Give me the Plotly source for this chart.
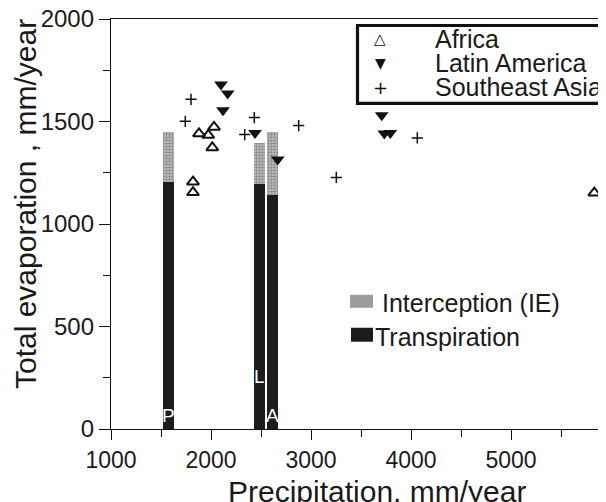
import plotly.graph_objects as go

# ---------------- data ----------------
africa_precip = [1880, 1973, 2030, 2013, 1820, 1820, 5833]
africa_evap = [1441, 1433, 1473, 1373, 1206, 1154, 1152]

latam_precip = [2100, 2167, 2120, 2440, 2667, 3707, 3733, 3793]
latam_evap = [1681, 1636, 1555, 1444, 1315, 1530, 1441, 1444]

seasia_precip = [1800, 1743, 2433, 2337, 2877, 3253, 4063]
seasia_evap = [1608, 1501, 1519, 1436, 1480, 1227, 1420]

site_labels = ["P", "L", "A"]
site_precip = [1577, 2487, 2618]
site_transpiration = [1206, 1195, 1140]
site_interception = [243, 201, 308]

x_ticks = [1000, 2000, 3000, 4000, 5000]
y_ticks = [0, 500, 1000, 1500, 2000]

# ---------------- layout helpers ----------------
# The page body has an 8px default margin, so the figure is drawn 8px
# smaller and positions below are given in browser-window pixels.
OFF = 8
WIN_W, WIN_H = 606, 502
W, H = WIN_W - OFF, WIN_H - OFF
L_PX, R_PX, T_PX, B_PX = 111, 606, 18.5, 429.5   # plot area in window px


def px_x(px):
    return (px - L_PX) / (R_PX - L_PX)


def px_y(py):
    return (B_PX - py) / (B_PX - T_PX)


FONT = "Liberation Sans, Arial, sans-serif"
TXT = "#1a1a1a"

fig = go.Figure()

# stacked bars
fig.add_trace(go.Bar(
    x=site_precip, y=site_transpiration, name="Transpiration",
    width=112, marker=dict(color="#1c1c1c", line=dict(width=0)),
    showlegend=False, hoverinfo="x+y+name",
))
fig.add_trace(go.Bar(
    x=site_precip, y=site_interception, name="Interception (IE)",
    width=112,
    marker=dict(color="#a0a0a0", line=dict(width=0),
                pattern=dict(shape=".", fgcolor="#505050", bgcolor="#c4c4c4",
                             size=3, solidity=0.5)),
    showlegend=False, hoverinfo="x+y+name",
))

# scatter series
fig.add_trace(go.Scatter(
    x=africa_precip, y=africa_evap, mode="markers", name="Africa",
    marker=dict(symbol="triangle-up-open", size=10.5, color="#111",
                line=dict(width=2, color="#111")),
    showlegend=False,
))
fig.add_trace(go.Scatter(
    x=latam_precip, y=latam_evap, mode="markers", name="Latin America",
    marker=dict(symbol="triangle-down", size=12, color="#111",
                line=dict(width=0)),
    showlegend=False,
))
fig.add_trace(go.Scatter(
    x=seasia_precip, y=seasia_evap, mode="markers", name="Southeast Asia",
    marker=dict(symbol="cross-thin", size=8, color="#111",
                line=dict(width=1.5, color="#111")),
    showlegend=False,
))

annotations = []
shapes = []

# bar site labels (white letters at bar bottoms)
label_y = {"P": 67, "L": 257, "A": 67}
for lab, xp in zip(site_labels, site_precip):
    annotations.append(dict(
        x=xp, y=label_y[lab], xref="x", yref="y", text=lab, showarrow=False,
        font=dict(family=FONT, size=19, color="white"),
        xanchor="center", yanchor="middle",
    ))

# legend 1 (regions) box
shapes.append(dict(
    type="rect", xref="paper", yref="paper",
    x0=px_x(357.5), x1=px_x(640), y0=px_y(103), y1=px_y(25),
    line=dict(color="#111", width=3.2), fillcolor="white", layer="above",
))
legend_items = [("△", "Africa", 39, 15), ("▼", "Latin America", 63, 14),
                ("+", "Southeast Asia", 87, 18)]
for sym, name, cy, fs in legend_items:
    annotations.append(dict(
        x=px_x(380), y=px_y(cy), xref="paper", yref="paper", text=sym,
        showarrow=False, xanchor="center", yanchor="middle",
        font=dict(family="DejaVu Sans", size=fs, color="#111"),
    ))
    annotations.append(dict(
        x=px_x(433), y=px_y(cy), xref="paper", yref="paper", text=name,
        showarrow=False, xanchor="left", yanchor="middle",
        font=dict(family=FONT, size=25, color=TXT),
    ))

# legend 2 (bar components)
shapes.append(dict(
    type="rect", xref="paper", yref="paper",
    x0=px_x(350), x1=px_x(373), y0=px_y(308), y1=px_y(295),
    line=dict(width=0), fillcolor="#9c9c9c", layer="above",
))
shapes.append(dict(
    type="rect", xref="paper", yref="paper",
    x0=px_x(351), x1=px_x(373), y0=px_y(342), y1=px_y(328),
    line=dict(width=0), fillcolor="#1c1c1c", layer="above",
))
annotations.append(dict(
    x=px_x(380), y=px_y(303), xref="paper", yref="paper",
    text="Interception (IE)", showarrow=False, xanchor="left", yanchor="middle",
    font=dict(family=FONT, size=25, color=TXT),
))
annotations.append(dict(
    x=px_x(373), y=px_y(337), xref="paper", yref="paper",
    text="Transpiration", showarrow=False, xanchor="left", yanchor="middle",
    font=dict(family=FONT, size=25, color=TXT),
))

# axis titles
annotations.append(dict(
    x=px_x(377), y=px_y(492), xref="paper", yref="paper",
    text="Precipitation, mm/year", showarrow=False,
    xanchor="center", yanchor="middle",
    font=dict(family=FONT, size=30, color=TXT),
))
annotations.append(dict(
    x=px_x(25), y=px_y(204), xref="paper", yref="paper",
    text="Total evaporation , mm/year", showarrow=False, textangle=-90,
    xanchor="center", yanchor="middle",
    font=dict(family=FONT, size=30, color=TXT),
))

fig.update_layout(
    width=W, height=H,
    margin=dict(l=L_PX - OFF, r=WIN_W - R_PX, t=T_PX - OFF, b=WIN_H - B_PX,
                pad=0, autoexpand=False),
    paper_bgcolor="white", plot_bgcolor="white",
    barmode="stack", bargap=0,
    font=dict(family=FONT, color=TXT),
    annotations=annotations, shapes=shapes,
    showlegend=False,
)
fig.update_xaxes(
    range=[1000, 5950], tickvals=x_ticks, ticktext=[str(v) for v in x_ticks],
    showgrid=False, zeroline=False, automargin=False,
    ticklabeloverflow="allow",
    showline=True, linecolor="#111", linewidth=1.3, mirror=True,
    ticks="outside", ticklen=10, tickwidth=1.2, tickcolor="#111",
    tickfont=dict(family=FONT, size=23, color=TXT),
    minor=dict(dtick=500, tick0=1000, ticks="outside", ticklen=7,
               tickwidth=1.2, tickcolor="#111", showgrid=False),
)
fig.update_yaxes(
    range=[0, 2000], tickvals=y_ticks, ticktext=[str(v) for v in y_ticks],
    showgrid=False, zeroline=False, automargin=False,
    ticklabeloverflow="allow",
    showline=True, linecolor="#111", linewidth=1.3,
    ticks="outside", ticklen=11, tickwidth=1.2, tickcolor="#111",
    tickfont=dict(family=FONT, size=24, color=TXT),
    minor=dict(dtick=250, tick0=0, ticks="outside", ticklen=7,
               tickwidth=1.2, tickcolor="#111", showgrid=False),
)

fig.write_html("out.html")
